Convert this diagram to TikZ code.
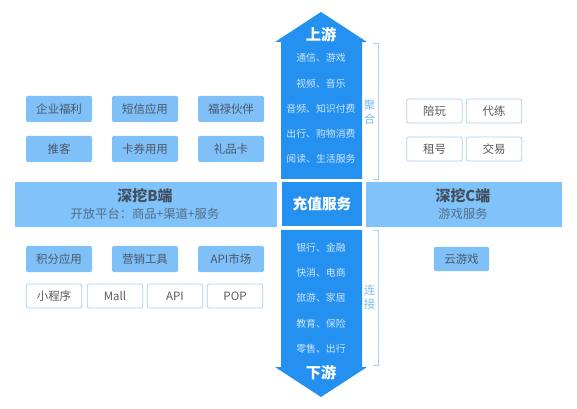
\documentclass[tikz,border=0pt]{standalone}
\usepackage{fontspec}
\setmainfont{Noto Sans CJK SC}
\usepackage{xcolor}
\usetikzlibrary{positioning}
\definecolor{arrowblue}{HTML}{2490F0}
\definecolor{bandblue}{HTML}{80C2FA}
\definecolor{boxblue}{HTML}{80C0F8}
\definecolor{lineblue}{HTML}{A8D0F5}
\definecolor{labelblue}{HTML}{7DB8EE}
\definecolor{itemblue}{HTML}{CDE6FB}
\definecolor{boxtext}{HTML}{4A5868}
\definecolor{greytext}{HTML}{5A5A5A}

\tikzset{
  fillbox/.style={fill=boxblue, rounded corners=1.5pt, inner sep=0pt,
    minimum width=49.5pt, minimum height=19.5pt, text=boxtext,
    font=\fontsize{8.6}{10}\selectfont},
  linebox/.style={draw=lineblue, line width=0.6pt, fill=white, rounded corners=1.5pt,
    inner sep=0pt, minimum width=41.5pt, minimum height=18pt, text=greytext,
    font=\fontsize{8.6}{10}\selectfont},
  bandtitle/.style={text=boxtext!90!black, font=\fontsize{11.2}{13}\selectfont\bfseries},
  bandsub/.style={text=boxtext!80!bandblue, font=\fontsize{9.2}{11}\selectfont},
  arrowtitle/.style={text=white, font=\fontsize{11.4}{13}\selectfont\bfseries},
  arrowitem/.style={text=itemblue, font=\fontsize{7.4}{9}\selectfont},
  sidelabel/.style={text=labelblue, align=center, font=\fontsize{8.6}{10.5}\selectfont},
  bracket/.style={draw=lineblue, line width=0.6pt}
}

\begin{document}
\begin{tikzpicture}[x=0.75pt, y=-0.75pt]
\useasboundingbox (0,0) rectangle (577,409);

% arrows up and down
\fill[arrowblue] (321,12) -- (367,42) -- (362,42) -- (362,179) -- (281,179)
  -- (281,42) -- (275,42) -- cycle;
\fill[arrowblue] (281,230) -- (362,230) -- (362,367) -- (367,367) -- (321,397)
  -- (275,367) -- (281,367) -- cycle;

% bands
\fill[bandblue] (15,182) rectangle (277,227);
\fill[bandblue] (366,182) rectangle (562,227);
\fill[arrowblue] (282,182) rectangle (362,226);

\node[bandtitle] (btitle) at (145,196) {深挖B端};
\node[bandsub] (bsub) at (145,214) {开放平台：商品+渠道+服务};
\node[bandtitle] (ctitle) at (463,196) {深挖C端};
\node[bandsub] (csub) at (463,214) {游戏服务};
\node[arrowtitle, font=\fontsize{11}{13}\selectfont\bfseries] (center) at (322,204) {充值服务};

% arrow texts
\node[arrowtitle] (up) at (321,35) {上游};
\node[arrowtitle] (down) at (321,373) {下游};
\foreach \t [count=\i] in {通信、游戏, 视频、音乐, 音频、知识付费, 出行、购物消费, 阅读、生活服务}
  \node[arrowitem] (upitem\i) at (321,33+25.2*\i) {\t};
\foreach \t [count=\i] in {银行、金融, 快消、电商, 旅游、家居, 教育、保险, 零售、出行}
  \node[arrowitem] (downitem\i) at (321,222.5+25.2*\i) {\t};

% brackets
\coordinate (ja) at (373,43);
\coordinate (jb) at (373,179);
\coordinate (la) at (373,230);
\coordinate (lb) at (373,365);
\draw[bracket] (ja) -- ++(5,0) |- (jb);
\draw[bracket] (la) -- ++(5,0) |- (lb);
\node[sidelabel] (juhe) at (369.5,112) {聚\\合};
\node[sidelabel] (lianjie) at (369.5,297) {连\\接};

% B side boxes
\node[fillbox] (qiye) at (59,109) {企业福利};
\node[fillbox] (duanxin) at (145,109) {短信应用};
\node[fillbox] (fulu) at (231,109) {福禄伙伴};
\node[fillbox] (tuike) at (59,149) {推客};
\node[fillbox] (kaquan) at (145,149) {卡券用用};
\node[fillbox] (lipin) at (231,149) {礼品卡};
\node[fillbox] (jifen) at (59,259) {积分应用};
\node[fillbox] (yingxiao) at (145,259) {营销工具};
\node[fillbox] (apishop) at (231,259) {API市场};
\node[linebox] (xcx) at (54,296) {小程序};
\node[linebox] (mall) at (115,296) {Mall};
\node[linebox] (api) at (175,296) {API};
\node[linebox] (pop) at (235,296) {POP};

% C side boxes
\node[linebox] (peiwan) at (434.5,111) {陪玩};
\node[linebox] (dailian) at (494,111) {代练};
\node[linebox] (zuhao) at (434.5,149) {租号};
\node[linebox] (jiaoyi) at (494,149) {交易};
\node[fillbox, minimum width=41.5pt, minimum height=18pt] (yunyx) at (461.5,259) {云游戏};
\end{tikzpicture}
\end{document}
